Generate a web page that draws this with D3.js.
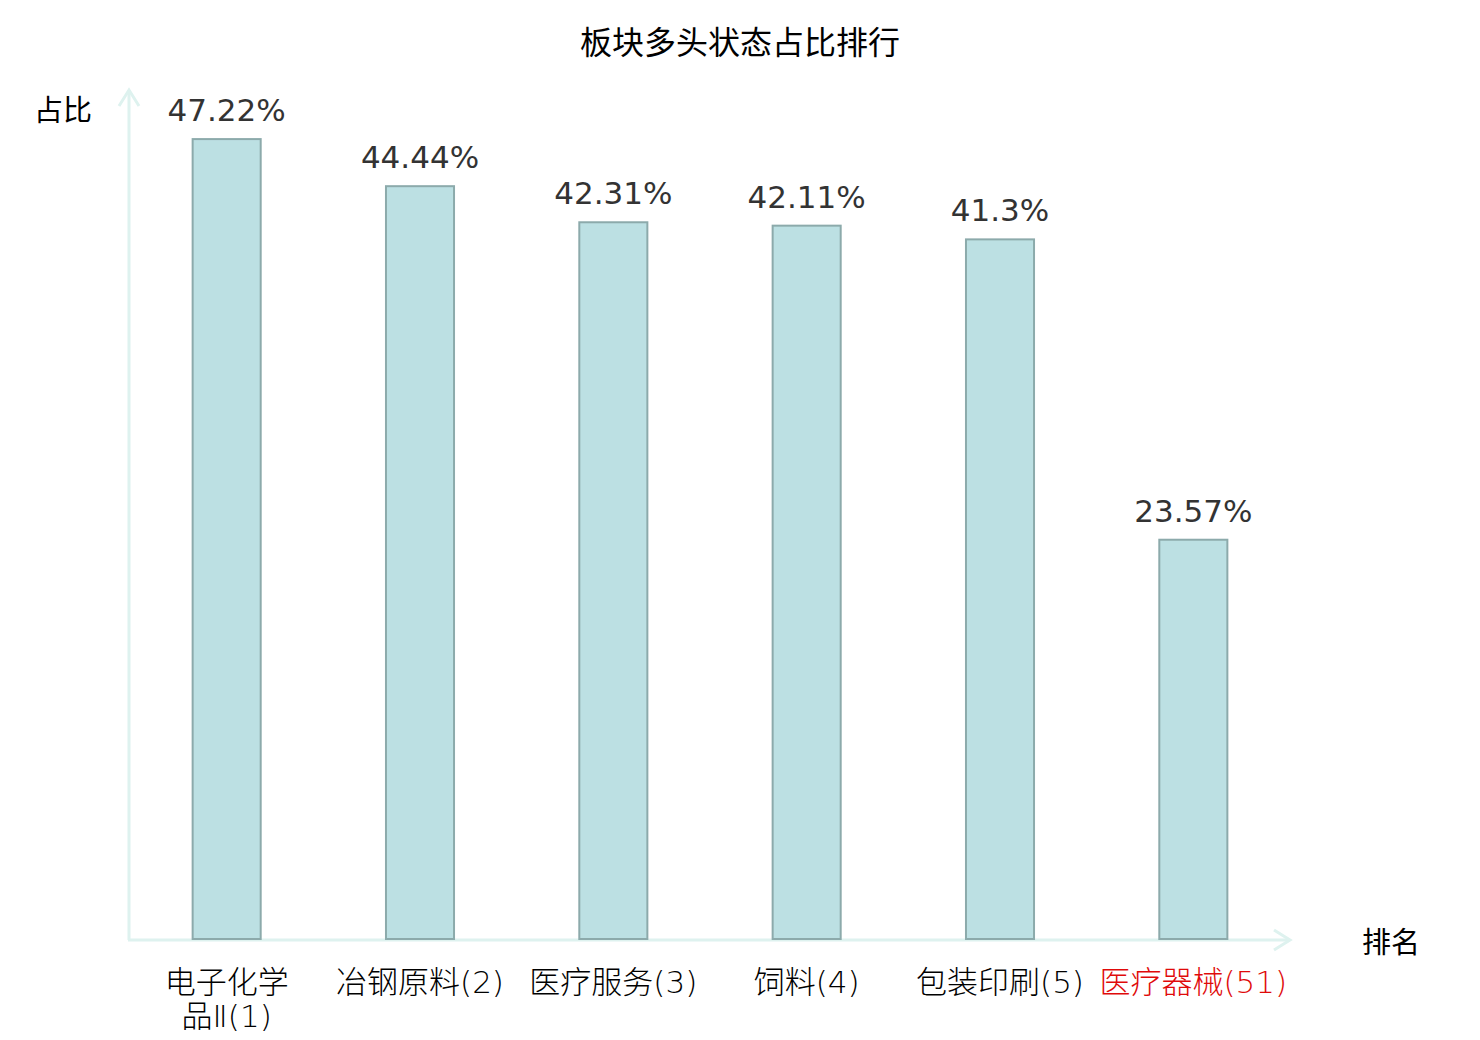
<!DOCTYPE html>
<html>
<head>
<meta charset="utf-8">
<script src="https://cdn.jsdelivr.net/npm/d3@7"></script>
<style>
  body { margin: 0; background: #fff; }
  text { font-family: "DejaVu Sans", "Noto Sans CJK SC", sans-serif; }
</style>
</head>
<body>
<div id="chart"></div>
<script>
const categories = ["电子化学品Ⅱ(1)", "冶钢原料(2)", "医疗服务(3)", "饲料(4)", "包装印刷(5)", "医疗器械(51)"];
const values = [47.22, 44.44, 42.31, 42.11, 41.3, 23.57];
const valueLabels = ["47.22%", "44.44%", "42.31%", "42.11%", "41.3%", "23.57%"];
const highlight = "医疗器械(51)";

const W = 1480, H = 1040;
const plotLeft = 130, plotRight = 1290, plotTop = 92, plotBottom = 939;

const svg = d3.select("#chart").append("svg")
    .attr("width", W)
    .attr("height", H);

const x = d3.scaleBand()
    .domain(categories)
    .range([plotLeft, plotRight])
    .paddingInner(0.648)
    .paddingOuter(0.324);

const y = d3.scaleLinear()
    .domain([0, 50])
    .range([plotBottom, plotTop]);

// title
svg.append("text")
    .attr("x", W / 2)
    .attr("y", 54)
    .attr("text-anchor", "middle")
    .attr("fill", "#000")
    .style("font-size", "32px")
    .text("板块多头状态占比排行");

// axes
const axisColor = "#def2ef";
svg.append("line")
    .attr("x1", plotLeft - 1).attr("x2", plotLeft - 1)
    .attr("y1", plotBottom + 1).attr("y2", plotTop - 2)
    .attr("stroke", axisColor).attr("stroke-width", 3);
svg.append("path")
    .attr("d", `M${plotLeft - 11},${plotTop + 14} L${plotLeft - 1},${plotTop - 2} L${plotLeft + 9},${plotTop + 14}`)
    .attr("fill", "none").attr("stroke", axisColor).attr("stroke-width", 3);
svg.append("line")
    .attr("x1", plotLeft - 2).attr("x2", plotRight)
    .attr("y1", plotBottom + 1).attr("y2", plotBottom + 1)
    .attr("stroke", axisColor).attr("stroke-width", 3);
svg.append("path")
    .attr("d", `M${plotRight - 16},${plotBottom - 9} L${plotRight},${plotBottom + 1} L${plotRight - 16},${plotBottom + 11}`)
    .attr("fill", "none").attr("stroke", axisColor).attr("stroke-width", 3);

svg.append("text")
    .attr("x", 63).attr("y", 121)
    .attr("text-anchor", "middle")
    .attr("fill", "#000")
    .style("font-size", "29px")
    .text("占比");

svg.append("text")
    .attr("x", 1391).attr("y", 953)
    .attr("text-anchor", "middle")
    .attr("fill", "#000")
    .style("font-size", "29px")
    .text("排名");

// bars
svg.selectAll("rect.bar")
    .data(categories)
    .join("rect")
    .attr("class", "bar")
    .attr("x", d => x(d))
    .attr("y", (d, i) => y(values[i]))
    .attr("width", x.bandwidth())
    .attr("height", (d, i) => y(0) - y(values[i]))
    .attr("fill", "#bce0e3")
    .attr("stroke", "#8caaab")
    .attr("stroke-width", 2);

// value labels
svg.selectAll("text.val")
    .data(categories)
    .join("text")
    .attr("class", "val")
    .attr("x", d => x(d) + x.bandwidth() / 2)
    .attr("y", (d, i) => y(values[i]) - 18)
    .attr("text-anchor", "middle")
    .attr("fill", "#333")
    .style("font-size", "31px")
    .text((d, i) => valueLabels[i]);

// category labels (first one wraps onto two lines)
const labelLines = categories.flatMap(d => {
    const lines = d.length > 8 ? [d.slice(0, 4), d.slice(4)] : [d];
    return lines.map((s, j) => ({ cat: d, text: s, line: j }));
});

svg.selectAll("text.cat")
    .data(labelLines)
    .join("text")
    .attr("class", "cat")
    .attr("x", d => x(d.cat) + x.bandwidth() / 2)
    .attr("y", d => 993 + d.line * 34)
    .attr("text-anchor", "middle")
    .attr("fill", d => d.cat === highlight ? "#e00a0a" : "#000")
    .style("font-size", "31px")
    .style("font-family", "'DejaVu Sans', 'Noto Sans CJK SC', sans-serif")
    .style("font-weight", 300)
    .text(d => d.text);
</script>
</body>
</html>
